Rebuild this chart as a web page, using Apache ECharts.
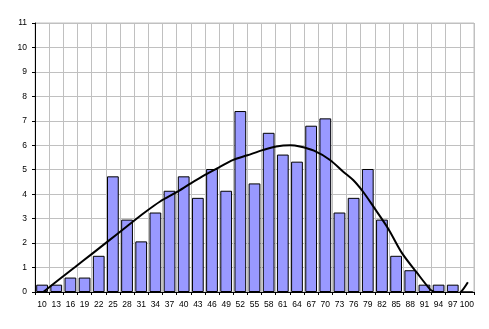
<!DOCTYPE html>
<html>
<head>
<meta charset="utf-8">
<script src="https://cdn.jsdelivr.net/npm/echarts@6/dist/echarts.min.js"></script>
<style>html,body{margin:0;padding:0;background:#fff}#c{width:489px;height:329px}</style>
</head>
<body>
<div id="c"></div>
<script>
var categories = ['10','13','16','19','22','25','28','31','34','37','40','43','46','49','52','55','58','61','64','67','70','73','76','79','82','85','88','91','94','97','100'];
var barValues = [0.3,0.3,0.59,0.59,1.48,4.73,2.96,2.07,3.25,4.14,4.73,3.85,5.03,4.14,7.4,4.44,6.51,5.62,5.33,6.8,7.1,3.25,3.85,5.03,2.96,1.48,0.89,0.3,0.3,0.3,0];
var yTicks = [0,1,2,3,4,5,6,7,8,9,10,11];
var curveX = [10.26,14,17,20.5,24,28,31.66,35,38.4,41.3,44.5,47.5,50.5,53.5,56.7,59.6,62.6,64.6,67.6,71,73.8,75.9,78,80.2,83.3,86.25,89.4,92.2,93.1,96,98.7,100.2];
var curveY = [0,0.57,1.02,1.55,2.08,2.69,3.24,3.7,4.07,4.42,4.79,5.1,5.4,5.59,5.8,5.95,6.0,5.95,5.78,5.4,4.92,4.58,4.1,3.49,2.6,1.59,0.79,0.11,0,-0.4,0,0.4];

var curveData = curveX.map(function(x,i){return [x, curveY[i]];});
var font = {fontFamily:'Liberation Sans', fontSize:8.5, color:'#000'};
var chart = echarts.init(document.getElementById('c'), null, {renderer:'canvas'});
chart.setOption({
  animation:false,
  backgroundColor:'#fff',
  grid:{left:35, top:23, right:15, bottom:37, show:true, borderColor:'#C0C0C0', borderWidth:1, backgroundColor:'transparent'},
  xAxis:[{
    type:'category', data:categories, boundaryGap:true,
    axisLine:{show:true, lineStyle:{color:'#000', width:1}},
    axisTick:{show:true, length:3, lineStyle:{color:'#000'}},
    axisLabel:Object.assign({interval:0, margin:8}, font),
    splitLine:{show:true, interval:0, lineStyle:{color:'#C0C0C0', width:1}}
  },{
    type:'value', min:8.5, max:101.5, show:false
  }],
  yAxis:{
    type:'value', min:yTicks[0], max:yTicks[yTicks.length-1], interval:1,
    axisLine:{show:true, lineStyle:{color:'#000', width:1}},
    axisTick:{show:true, length:3, lineStyle:{color:'#000'}},
    axisLabel:Object.assign({margin:8}, font),
    splitLine:{show:true, lineStyle:{color:'#C0C0C0', width:1}}
  },
  series:[{
    type:'bar', data:barValues, xAxisIndex:0, barCategoryGap:'17%',
    itemStyle:{color:'#9999FF', borderColor:'#000', borderWidth:1}
  },{
    type:'line', data:curveData, xAxisIndex:1, smooth:0.3, symbol:'none', clip:true, z:5,
    lineStyle:{color:'#000', width:2}
  }]
});
</script>
</body>
</html>
